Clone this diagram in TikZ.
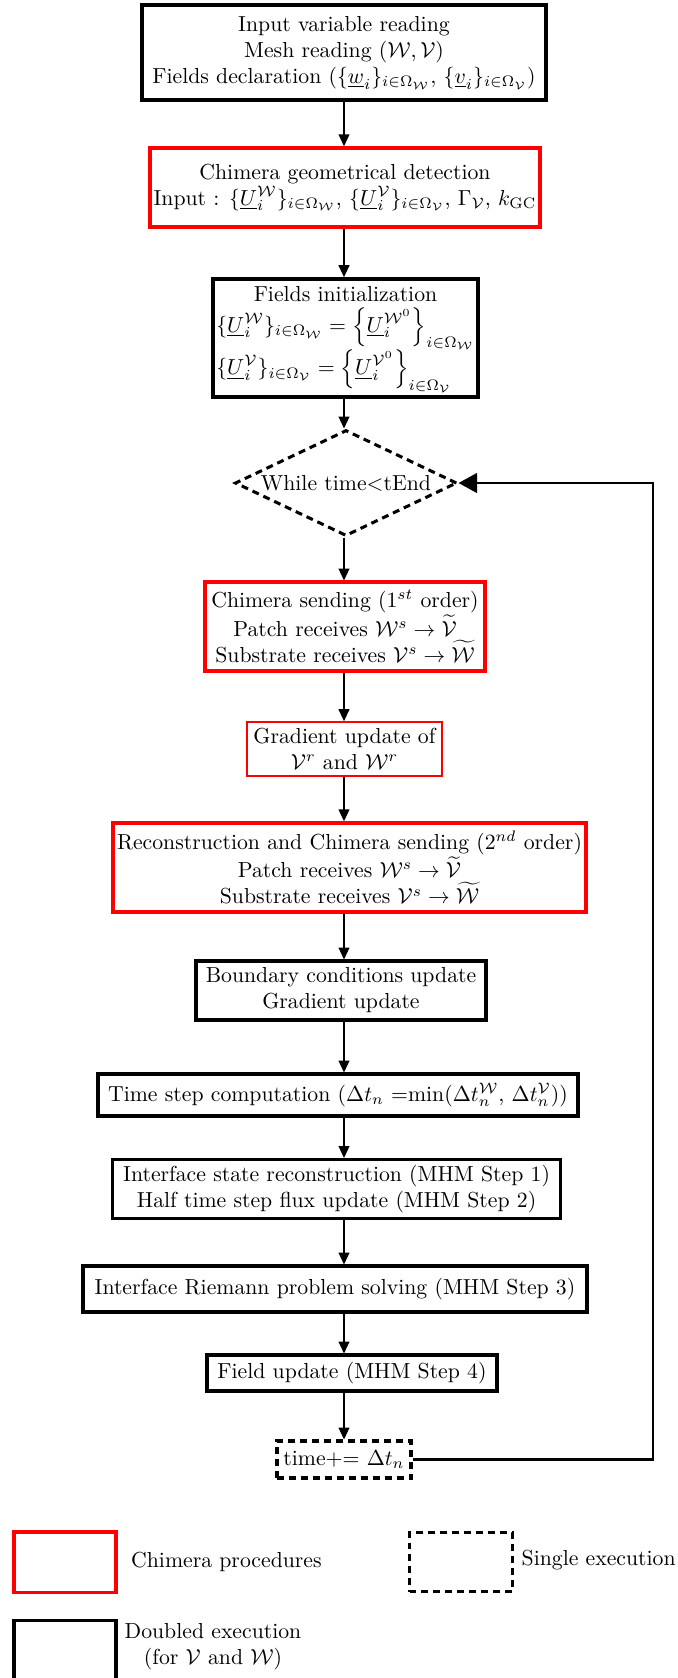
\documentclass[tikz,border=0pt]{standalone}
\usepackage{amsmath,amssymb}
\usetikzlibrary{shapes.geometric,arrows.meta}
\begin{document}
\begin{tikzpicture}[x=0.46pt,y=-0.46pt,
  mw/.style={minimum width=#1*0.46pt},
  mh/.style={minimum height=#1*0.46pt},
  box/.style={rectangle, align=center, inner sep=1pt},
  bk/.style={box, draw=black, line width=1.4pt},
  bkx/.style={box, draw=black, line width=1.8pt},
  rd/.style={box, draw=red, line width=1.6pt},
  rdthin/.style={box, draw=red, line width=0.8pt},
  dsh/.style={draw=black, dash pattern=on 3.2pt off 2.3pt, line width=1.4pt},
  arr/.style={-{Triangle[width=5pt,length=5.5pt]}, line width=0.7pt},
  looparr/.style={-{Triangle[width=9pt,length=8.5pt]}, line width=1.1pt}]

\useasboundingbox (0,0) rectangle (678,1678);
\clip (0,0) rectangle (678,1678);

\coordinate (ax) at (344,0);
\coordinate (lp) at (653,0);

\node[bkx, mw=404, mh=95] (b1) at (344,52.7) {Input variable reading\\
  Mesh reading $(\mathcal{W},\mathcal{V})$\\
  Fields declaration $\left(\{\underline{w}_i\}_{i\in\Omega_{\mathcal{W}}},\,\{\underline{v}_i\}_{i\in\Omega_{\mathcal{V}}}\right)$};

\node[rd, mw=390, mh=79] (b2) at (345,187.5) {Chimera geometrical detection\\
  Input : $\{\underline{U}_i^{\mathcal{W}}\}_{i\in\Omega_{\mathcal{W}}}$, $\{\underline{U}_i^{\mathcal{V}}\}_{i\in\Omega_{\mathcal{V}}}$, $\Gamma_{\mathcal{V}}$, $k_{\mathrm{GC}}$};

\node[bk, line width=1.7pt, mw=265, mh=118, inner sep=0pt] (b3) at (345.5,338) {\begin{tabular}{@{}l@{}}\multicolumn{1}{@{}c@{}}{Fields initialization}\\[-1pt]
  $\{\underline{U}_i^{\mathcal{W}}\}_{i\in\Omega_{\mathcal{W}}}=\Big\{\underline{U}_i^{\mathcal{W}^0}\Big\}_{i\in\Omega_{\mathcal{W}}}$\\[1pt]
  $\{\underline{U}_i^{\mathcal{V}}\}_{i\in\Omega_{\mathcal{V}}}=\Big\{\underline{U}_i^{\mathcal{V}^0}\Big\}_{i\in\Omega_{\mathcal{V}}}$\end{tabular}};

\node[diamond, dsh, aspect=2.1, inner sep=0pt, mw=222, mh=106] (dia) at (346,483) {While time$<$tEnd};

\node[rd, line width=1.4pt, mw=280, mh=89] (b5) at (345,626.5) {Chimera sending ($1^{st}$ order)\\
  Patch receives $\mathcal{W}^s\rightarrow\widetilde{\mathcal{V}}$\\
  Substrate receives $\mathcal{V}^s\rightarrow\widetilde{\mathcal{W}}$};

\node[rdthin, mw=195, mh=54] (b6) at (344.5,749) {Gradient update of\\ $\mathcal{V}^r$ and $\mathcal{W}^r$};

\node[rd, mw=473, mh=89] (b7) at (349.5,867.5) {Reconstruction and Chimera sending ($2^{nd}$ order)\\
  Patch receives $\mathcal{W}^s\rightarrow\widetilde{\mathcal{V}}$\\
  Substrate receives $\mathcal{V}^s\rightarrow\widetilde{\mathcal{W}}$};

\node[bk, mw=290, mh=59] (b8) at (341,990.5) {Boundary conditions update\\ Gradient update};

\node[bk, mw=480, mh=42] (b9) at (338,1095) {Time step computation ($\Delta t_n$ =min($\Delta t_n^{\mathcal{W}}$, $\Delta t_n^{\mathcal{V}}$))};

\node[bk, mw=448, mh=59] (b10) at (336.6,1189) {Interface state reconstruction (MHM Step 1)\\ Half time step flux update (MHM Step 2)};

\node[bk, mw=504, mh=46] (b11) at (335,1289) {Interface Riemann problem solving (MHM Step 3)};

\node[bk, mw=290, mh=36] (b12) at (352,1373) {Field update (MHM Step 4)};

\node[rectangle, dsh, inner sep=1pt, mw=134, mh=37] (b13) at (344,1459.5) {time+= $\Delta t_n$};

\draw[arr] (b1.south -| ax) -- (b2.north -| ax);
\draw[arr] (b2.south -| ax) -- (b3.north -| ax);
\draw[arr] (b3.south -| ax) -- (dia.north -| ax);
\draw[arr] (dia.south -| ax) -- (b5.north -| ax);
\draw[arr] (b5.south -| ax) -- (b6.north -| ax);
\draw[arr] (b6.south -| ax) -- (b7.north -| ax);
\draw[arr] (b7.south -| ax) -- (b8.north -| ax);
\draw[arr] (b8.south -| ax) -- (b9.north -| ax);
\draw[arr] (b9.south -| ax) -- (b10.north -| ax);
\draw[arr] (b10.south -| ax) -- (b11.north -| ax);
\draw[arr] (b11.south -| ax) -- (b12.north -| ax);
\draw[arr] (b12.south -| ax) -- (b13.north -| ax);
\draw[looparr] (b13.east) -| (lp |- dia.east) -- (dia.east);

\node[rectangle, draw=red, line width=1.4pt, mw=102, mh=60] (lr) at (65,1562) {};
\node[anchor=west] (lrt) at (123.5,1562) {Chimera procedures};
\node[rectangle, dsh, mw=103, mh=59] (ld) at (461,1562) {};
\node[anchor=west] (ldt) at (514,1560) {Single execution};
\node[rectangle, draw=black, line width=1.4pt, mw=102, mh=60] (lb) at (65,1650) {};
\node[align=center] (lbt) at (213,1647) {Doubled execution\\(for $\mathcal{V}$ and $\mathcal{W}$)};
\end{tikzpicture}
\end{document}
